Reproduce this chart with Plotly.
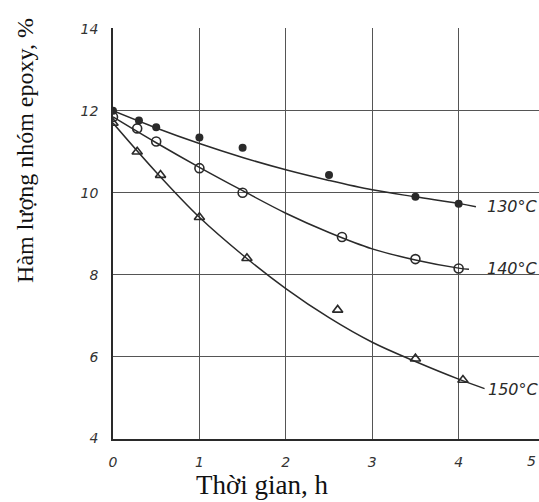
import plotly.graph_objects as go

# Measured points (time h, epoxy group content %)
t130 = [0.0, 0.3, 0.5, 1.0, 1.5, 2.5, 3.5, 4.0]
v130 = [12.0, 11.76, 11.6, 11.35, 11.1, 10.43, 9.9, 9.73]
t140 = [0.0, 0.28, 0.5, 1.0, 1.5, 2.65, 3.5, 4.0]
v140 = [11.85, 11.57, 11.25, 10.6, 10.0, 8.92, 8.38, 8.15]
t150 = [0.0, 0.28, 0.55, 1.0, 1.55, 2.6, 3.5, 4.05]
v150 = [11.7, 11.0, 10.43, 9.4, 8.4, 7.14, 5.95, 5.43]

# Hand-drawn fitted curves
ct130 = [0.0, 0.5, 1.0, 1.5, 2.0, 2.5, 3.0, 3.5, 4.0, 4.2]
cv130 = [12.0, 11.58, 11.2, 10.86, 10.56, 10.3, 10.07, 9.9, 9.74, 9.66]
ct140 = [0.0, 0.5, 1.0, 1.5, 2.0, 2.5, 3.0, 3.5, 4.0, 4.12]
cv140 = [11.85, 11.22, 10.62, 10.05, 9.5, 9.03, 8.63, 8.36, 8.16, 8.13]
ct150 = [0.0, 0.5, 1.0, 1.5, 2.0, 2.5, 3.0, 3.5, 4.0, 4.3]
cv150 = [11.7, 10.5, 9.4, 8.48, 7.66, 6.95, 6.35, 5.88, 5.45, 5.22]

labels = ["130°C", "140°C", "150°C"]
label_pos = [(4.62, 9.67), (4.62, 8.16), (4.63, 5.19)]

x_ticks = [0, 1, 2, 3, 4]
y_ticks = [4, 6, 8, 10, 12, 14]

ink = "#2a2a2a"
fig = go.Figure()
for ct, cv in [(ct130, cv130), (ct140, cv140), (ct150, cv150)]:
    fig.add_trace(go.Scatter(x=ct, y=cv, mode="lines",
                             line=dict(color=ink, width=1.5, shape="spline", smoothing=1.0),
                             hoverinfo="skip", showlegend=False))

fig.add_trace(go.Scatter(x=t130, y=v130, mode="markers",
                         marker=dict(symbol="circle", size=8, color=ink), showlegend=False))
fig.add_trace(go.Scatter(x=t140, y=v140, mode="markers",
                         marker=dict(symbol="circle-open", size=9, color=ink, line=dict(width=1.6)),
                         showlegend=False))
fig.add_trace(go.Scatter(x=t150, y=v150, mode="markers",
                         marker=dict(symbol="triangle-up-open", size=9, color=ink, line=dict(width=1.6)),
                         showlegend=False))

for lab, (lx, ly) in zip(labels, label_pos):
    fig.add_annotation(x=lx, y=ly, text=lab, showarrow=False, xanchor="center", yanchor="middle",
                       font=dict(family="DejaVu Sans", size=16, color=ink, style="italic"))

# "5" tick label at the right edge
fig.add_annotation(xref="paper", yref="paper", x=0.998, y=-0.054, text="5", showarrow=False,
                   xanchor="right", yanchor="middle",
                   font=dict(family="DejaVu Sans", size=14, color="#333", style="italic"))

fig.add_annotation(xref="paper", yref="paper", x=0.35, y=-0.112, text="Thời gian, h",
                   showarrow=False, xanchor="center", yanchor="middle",
                   font=dict(family="Liberation Serif", size=27, color="#111"))
fig.add_annotation(xref="paper", yref="paper", x=-0.207, y=0.703, text="Hàm lượng nhóm epoxy, %",
                   showarrow=False, xanchor="center", yanchor="middle", textangle=-90,
                   font=dict(family="Liberation Serif", size=24, color="#111"))

fig.update_xaxes(range=[0, 4.93], tickvals=x_ticks, ticktext=[str(v) for v in x_ticks],
                 showgrid=True, gridcolor="#555", gridwidth=1, zeroline=False,
                 showline=True, linecolor=ink, linewidth=1.5, ticks="", ticklabelstandoff=9,
                 tickfont=dict(family="DejaVu Sans", size=14, color="#333", style="italic"))
fig.update_yaxes(range=[3.99, 14.02], tickvals=y_ticks, ticktext=[str(v) for v in y_ticks],
                 showgrid=True, gridcolor="#555", gridwidth=1, zeroline=False,
                 showline=True, linecolor=ink, linewidth=1.5, ticks="", ticklabelstandoff=10,
                 tickfont=dict(family="DejaVu Sans", size=14, color="#333", style="italic"))

fig.update_layout(width=539, height=502, margin=dict(l=113, r=0, t=28, b=63),
                  plot_bgcolor="white", paper_bgcolor="white", showlegend=False)

fig.write_html("out.html")
